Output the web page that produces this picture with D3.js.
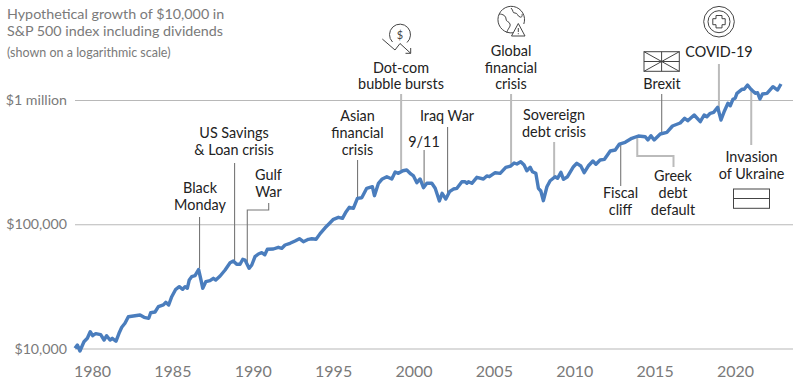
<!doctype html>
<html lang="en">
<head>
    <title>S&amp;P 500 growth</title>
    <script src="https://d3js.org/d3.v7.min.js"></script>
    <style>
        html, body { margin: 0; padding: 0; background: #fff; }
        svg { display: block; font-family: Lato, sans-serif; }
    </style>
</head>
<body>
    <script>
        // Values
        const years = [
            1978.94,1979.09,1979.25,1979.50,1979.71,1979.89,1980.04,1980.23,1980.54,1980.75,1980.91,1981.12,1981.26,1981.49,1981.68,1981.85,
            1982.05,1982.26,1982.57,1982.99,1983.24,1983.53,1983.65,1983.92,1984.13,1984.44,1984.59,1984.77,1984.96,1985.21,1985.43,1985.64,
            1985.79,1985.93,1986.05,1986.20,1986.41,1986.63,1986.78,1986.89,1987.08,1987.34,1987.55,1987.70,1987.97,1988.28,1988.59,1988.79,
            1989.00,1989.21,1989.38,1989.52,1989.77,1989.94,1990.14,1990.35,1990.56,1990.75,1990.91,1991.28,1991.59,1991.81,1992.01,1992.32,
            1992.63,1992.90,1993.15,1993.46,1993.67,1993.94,1994.19,1994.50,1994.78,1995.02,1995.33,1995.58,1995.81,1996.01,1996.26,1996.51,
            1996.78,1997.09,1997.44,1997.57,1997.82,1998.03,1998.34,1998.65,1998.86,1999.06,1999.34,1999.58,1999.83,2000.00,2000.21,2000.41,
            2000.62,2000.83,2001.14,2001.35,2001.61,2001.78,2002.01,2002.24,2002.48,2002.70,2003.01,2003.21,2003.32,2003.42,2003.63,2003.94,
            2004.35,2004.56,2004.72,2005.08,2005.39,2005.74,2006.05,2006.26,2006.43,2006.67,2006.88,2007.05,2007.26,2007.40,2007.61,2007.77,
            2007.92,2008.08,2008.30,2008.50,2008.81,2008.96,2009.17,2009.33,2009.58,2009.95,2010.16,2010.41,2010.62,2010.87,2011.16,2011.35,
            2011.61,2011.88,2012.24,2012.55,2012.81,2013.17,2013.58,2013.99,2014.41,2014.58,2014.77,2014.97,2015.35,2015.76,2016.11,2016.59,
            2016.87,2017.06,2017.46,2017.84,2018.08,2018.25,2018.46,2018.67,2018.92,2019.13,2019.35,2019.56,2019.71,2019.87,2020.01,2020.12,
            2020.43,2020.57,2020.78,2020.99,2021.26,2021.40,2021.55,2021.71,2021.99,2022.36,2022.65,2022.86
        ];
        const growth = [
            10040,10670,9550,11340,12080,13650,12680,13160,12920,11700,12680,11700,12080,11430,13250,14810,
            15950,18030,18260,18600,17830,17500,19410,19670,21700,22400,23540,22400,26120,29950,31430,29950,
            31430,30510,35590,37830,38540,43230,35590,30510,34490,35130,36730,35590,38320,42830,49030,50600,
            47600,47600,52230,51550,44210,46990,54810,57610,59020,56870,62860,63210,65240,64030,68080,70250,
            73310,76500,72360,75650,76500,75650,84070,93630,101760,109600,113700,111600,126200,136900,134400,161700,
            163500,194700,200500,169700,213500,230000,241300,231400,263400,257000,269700,273300,253800,244600,215900,231400,
            196800,213500,213500,194700,153900,177400,159700,182800,192100,194700,220000,220000,213500,220000,213500,238700,
            231400,244600,241300,259900,257000,287300,294300,311100,305400,318700,299800,269700,287300,264800,257000,194700,
            185200,154700,200500,224100,241300,234300,261900,230000,241300,290500,309400,294300,259900,294300,322800,303700,
            328900,333200,388600,395800,442400,456500,491700,513100,506500,476400,515900,476400,532400,549500,617700,652900,
            712400,680000,757300,668900,757300,733700,781400,795900,873500,690200,820000,940600,899800,1013000,1032000,1132000,
            1219000,1219000,1320000,1219000,1132000,1145000,1019000,1117000,1132000,1279000,1203000,1345000
        ];
        const xTicks = [1980,1985,1990,1995,2000,2005,2010,2015,2020];
        const yTicks = [10000,100000,1000000];
        const yTickLabels = ["$10,000","$100,000","$1 million"];
        const eventYears = [1986.69,1988.87,1989.66,1996.52,1999.23,2000.66,2002.12,2006.07,2008.75,2012.89,2013.92,2015.44,2019.0,2021.01];

        const width = 801, height = 390;
        const dark = "#777", light = "#bbb", ink = "#222", muted = "#7a7a7a", icon = "#444";

        const x = d3.scaleLinear().domain([1980, 2020]).range([92, 735]);
        const y = d3.scaleLog().domain([10000, 1000000]).range([348.5, 100]);

        const svg = d3.select("body").append("svg")
            .attr("width", width)
            .attr("height", height);

        // Title
        const title = svg.append("g").attr("fill", muted);
        title.append("text").attr("x", 7).attr("y", 19).attr("font-size", 14.3).text("Hypothetical growth of $10,000 in");
        title.append("text").attr("x", 7).attr("y", 36).attr("font-size", 14.3).text("S&P 500 index including dividends");
        title.append("text").attr("x", 7).attr("y", 57).attr("font-size", 12.5).text("(shown on a logarithmic scale)");

        // Axes, the y ticks double as the gridlines
        const yAxis = svg.append("g")
            .attr("transform", "translate(75,0)")
            .call(d3.axisLeft(y)
                .tickValues(yTicks)
                .tickFormat((d, i) => yTickLabels[i])
                .tickSizeInner(-718)
                .tickSizeOuter(0)
                .tickPadding(8));
        yAxis.select(".domain").remove();
        yAxis.selectAll("line").attr("stroke", "#b8b8b8").attr("stroke-width", 1.2);
        yAxis.selectAll("text").attr("fill", muted).attr("font-size", 14.2).attr("font-family", "Lato, sans-serif");

        const xAxis = svg.append("g")
            .attr("transform", "translate(0,366)")
            .call(d3.axisBottom(x).tickValues(xTicks).tickFormat(d3.format("d")).tickSize(0).tickPadding(0));
        xAxis.select(".domain").remove();
        xAxis.selectAll("text").attr("fill", muted).attr("font-size", 16).attr("font-family", "Lato, sans-serif");

        // Leader lines go under the data line
        const leaders = [
            { e: 0, c: dark,  pts: d => [[d, 217], [d, 268]] },
            { e: 1, c: dark,  pts: d => [[d, 163], [d, 260]] },
            { e: 2, c: dark,  pts: d => [[d, 265], [d, 210], [268.7, 210], [268.7, 203]] },
            { e: 3, c: dark,  pts: d => [[d, 160], [d, 197]] },
            { e: 4, c: light, pts: d => [[d, 94], [d, 170]] },
            { e: 5, c: dark,  pts: d => [[d, 150], [d, 186]] },
            { e: 6, c: dark,  pts: d => [[d, 127], [d, 196]] },
            { e: 7, c: light, pts: d => [[d, 94], [d, 165]] },
            { e: 8, c: light, pts: d => [[d, 142], [d, 177]] },
            { e: 9, c: dark,  pts: d => [[d, 145], [d, 186]] },
            { e: 10, c: light, pts: d => [[d, 136], [d, 156], [673.5, 156], [673.5, 167]] },
            { e: 11, c: dark,  pts: d => [[d, 94], [d, 134]] },
            { e: 12, c: light, pts: d => [[d, 64], [d, 110]] },
            { e: 13, c: light, pts: d => [[d, 88], [d, 145]] }
        ];
        svg.append("g").attr("fill", "none").selectAll("path")
            .data(leaders)
            .enter()
            .append("path")
            .attr("stroke", d => d.c)
            .attr("stroke-width", d => d.c === dark ? 1.1 : 2)
            .attr("d", d => d3.line()(d.pts(x(eventYears[d.e]))));

        // Growth line
        const line = d3.line()
            .x((d, i) => x(years[i]))
            .y(d => y(d));
        svg.append("path")
            .attr("fill", "none")
            .attr("stroke", "#4a7dbd")
            .attr("stroke-width", 3.4)
            .attr("stroke-linejoin", "round")
            .attr("d", line(growth));

        // Event labels
        const labels = [
            { cx: 200, lines: [["Black", 193], ["Monday", 210]] },
            { cx: 234, lines: [["US Savings", 138], ["& Loan crisis", 155]] },
            { cx: 268.5, lines: [["Gulf", 180], ["War", 197]] },
            { cx: 357.5, lines: [["Asian", 121], ["financial", 138], ["crisis", 155]] },
            { cx: 401, lines: [["Dot-com", 73], ["bubble bursts", 89]] },
            { cx: 424, lines: [["9/11", 147]] },
            { cx: 447, lines: [["Iraq War", 121]] },
            { cx: 511, lines: [["Global", 56], ["financial", 73], ["crisis", 89]] },
            { cx: 554, lines: [["Sovereign", 120], ["debt crisis", 137]] },
            { cx: 620.5, lines: [["Fiscal", 198], ["cliff", 215]] },
            { cx: 673, lines: [["Greek", 181], ["debt", 198], ["default", 215]] },
            { cx: 662, lines: [["Brexit", 89]] },
            { cx: 719, lines: [["COVID-19", 57]] },
            { cx: 751.5, lines: [["Invasion", 162], ["of Ukraine", 179]] }
        ];
        const labelG = svg.append("g").attr("fill", ink).attr("font-size", 14.4).attr("text-anchor", "middle");
        labels.forEach(function(l) {
            l.lines.forEach(function(t) {
                labelG.append("text").attr("x", l.cx).attr("y", t[1]).text(t[0]);
            });
        });

        // Icons
        const icons = svg.append("g").attr("fill", "none").attr("stroke", icon).attr("stroke-width", 1);

        // dollar coin with falling arrow
        icons.append("path").attr("d", "M392.5,42 A10.5,10.5 0 1 1 407,42.5");
        icons.append("path").attr("d", "M382.3,39 L395,50 L400,43.5 L410.7,53.3 M405.5,53.3 H410.7 V48");
        svg.append("text").attr("x", 400).attr("y", 38.5).attr("text-anchor", "middle")
            .attr("font-size", 11).attr("fill", icon).text("$");

        // globe with warning sign
        icons.append("path").attr("d", "M513,32.8 A13.3,13.3 0 1 1 523.8,24");
        icons.append("path").attr("d", "M499,14 C503,14 506,16 506,19 C506,22 509,21 510,24 C511,27 507,29 507,33");
        icons.append("path").attr("d", "M511,8 C514,11 512,13 515,13 C518,13 517,16 520,17 C522,18 522.5,15 522,14");
        icons.append("path").attr("d", "M518.3,23.5 L525,36 H511.5 Z M518.3,28 V32 M518.3,33.2 V34.2");

        // medical cross
        icons.append("circle").attr("cx", 719).attr("cy", 21.7).attr("r", 15.3);
        icons.append("circle").attr("cx", 719).attr("cy", 21.7).attr("r", 11);
        icons.append("path").attr("d", "M716,15.5 H722 V18.7 H725.2 V24.7 H722 V27.9 H716 V24.7 H712.8 V18.7 H716 Z");

        // flags
        icons.append("rect").attr("x", 644).attr("y", 51.7).attr("width", 35.3).attr("height", 19.6);
        icons.append("path").attr("d", "M644,51.7 L679.3,71.3 M679.3,51.7 L644,71.3 M661.6,51.7 V71.3 M644,61.5 H679.3");
        icons.append("rect").attr("x", 733.5).attr("y", 189).attr("width", 36).attr("height", 19.3);
        icons.append("path").attr("d", "M733.5,198.5 H769.5");
    </script>
</body>
</html>
